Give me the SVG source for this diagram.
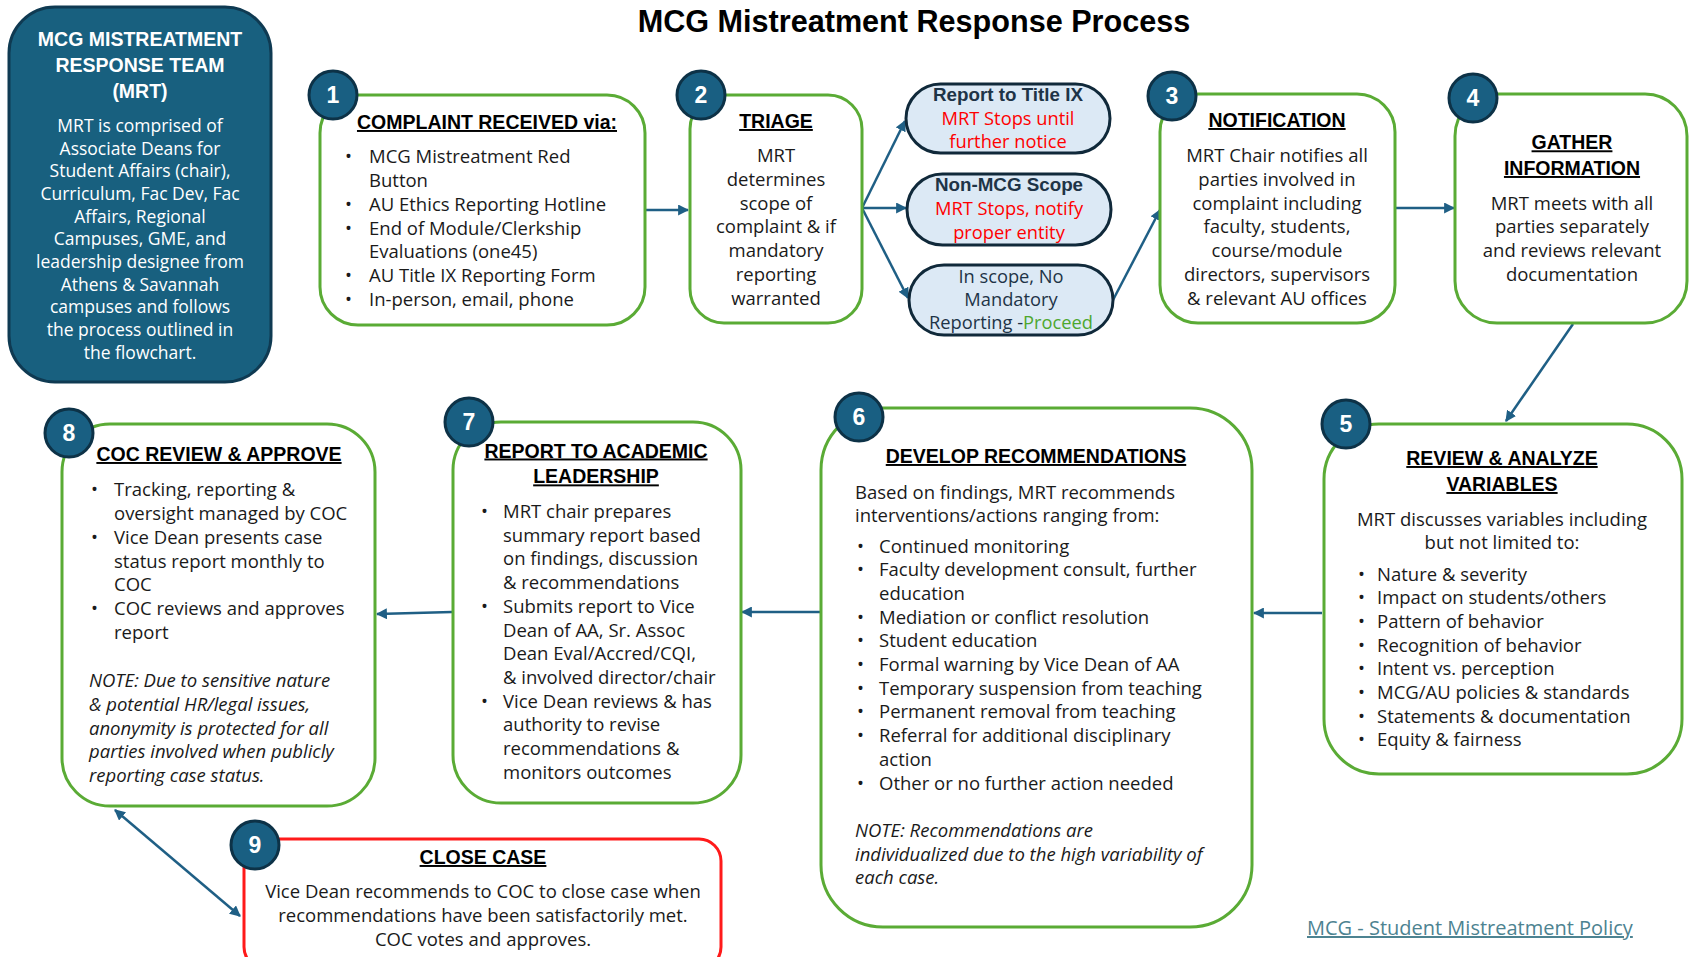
<svg xmlns="http://www.w3.org/2000/svg" width="1690" height="957" viewBox="0 0 1690 957">
<defs>
<style>
.t{font-family:'Open Sans','Liberation Sans',Arial,sans-serif;font-size:18.5px;fill:#1a1a1a}
.c{text-anchor:middle}
.h{font-family:'Liberation Sans',Arial,sans-serif;font-weight:bold;font-size:19.5px;text-decoration:underline;text-anchor:middle}
.i{font-style:italic}
.box{fill:#ffffff;stroke:#5aab35;stroke-width:3}
.red{fill:#ffffff;stroke:#ff1a1a;stroke-width:3}
.pill{fill:#dce9f5;stroke:#10293a;stroke-width:3}
.num{fill:#195f82;stroke:#0d3247;stroke-width:3}
.numt{font-family:'Liberation Sans',Arial,sans-serif;font-weight:bold;font-size:23px;fill:#ffffff;text-anchor:middle}
.conn{stroke:#1f5f85;stroke-width:2.5;fill:none}
.pt{font-family:'Open Sans','Liberation Sans',Arial,sans-serif;font-size:18.3px;fill:#1e3447;text-anchor:middle}
.pb{font-family:'Liberation Sans',Arial,sans-serif;font-weight:bold;font-size:18.8px}
.rd{fill:#ff0000}
.w{fill:#ffffff}
</style>
<marker id="ah" viewBox="0 0 10 10" refX="9" refY="5" markerWidth="11" markerHeight="11" markerUnits="userSpaceOnUse" orient="auto-start-reverse">
<path d="M0,0 L10,5 L0,10 Z" fill="#1f5f85"/>
</marker>
</defs>
<rect width="1690" height="957" fill="#ffffff"/>

<text x="914" y="32" style="font-family:'Liberation Sans',Arial,sans-serif;font-size:30.6px;font-weight:bold;fill:#000;text-anchor:middle">MCG Mistreatment Response Process</text>

<g id="connectors">
<line class="conn" x1="644" y1="210" x2="688" y2="210" marker-end="url(#ah)"/>
<line class="conn" x1="862" y1="208" x2="905" y2="121" marker-end="url(#ah)"/>
<line class="conn" x1="862" y1="208" x2="906" y2="208" marker-end="url(#ah)"/>
<line class="conn" x1="862" y1="208" x2="908" y2="298" marker-end="url(#ah)"/>
<line class="conn" x1="1113" y1="300" x2="1160" y2="210" marker-end="url(#ah)"/>
<line class="conn" x1="1395" y1="208" x2="1454" y2="208" marker-end="url(#ah)"/>
<line class="conn" x1="1573" y1="324" x2="1506" y2="421" marker-end="url(#ah)"/>
<line class="conn" x1="1322" y1="613" x2="1254" y2="613" marker-end="url(#ah)"/>
<line class="conn" x1="820" y1="612" x2="742" y2="612" marker-end="url(#ah)"/>
<line class="conn" x1="452" y1="612" x2="377" y2="614" marker-end="url(#ah)"/>
<line class="conn" x1="115" y1="810" x2="240" y2="916" marker-start="url(#ah)" marker-end="url(#ah)"/>
</g>

<g id="mrt">
<rect x="9" y="7" width="262" height="375" rx="46" fill="#18607f" stroke="#0f3a52" stroke-width="3"/>
<text class="t c w" style="font-family:'Liberation Sans',Arial,sans-serif;font-weight:bold;font-size:19.5px" x="140"><tspan x="140" y="46">MCG MISTREATMENT</tspan><tspan x="140" y="72">RESPONSE TEAM</tspan><tspan x="140" y="97.5">(MRT)</tspan></text>
<text class="t c w" style="font-size:17.5px" x="140"><tspan x="140" y="132">MRT is comprised of</tspan><tspan x="140" y="154.6">Associate Deans for</tspan><tspan x="140" y="177.3">Student Affairs (chair),</tspan><tspan x="140" y="199.9">Curriculum, Fac Dev, Fac</tspan><tspan x="140" y="222.6">Affairs,  Regional</tspan><tspan x="140" y="245.2">Campuses, GME, and</tspan><tspan x="140" y="267.9">leadership designee from</tspan><tspan x="140" y="290.5">Athens &amp; Savannah</tspan><tspan x="140" y="313.2">campuses and follows</tspan><tspan x="140" y="335.8">the process outlined in</tspan><tspan x="140" y="358.5">the flowchart.</tspan></text>
</g>

<g id="n1">
<rect class="box" x="320" y="95" width="325" height="230" rx="38"/>
<circle class="num" cx="333" cy="95" r="24"/>
<text class="numt" x="333" y="103">1</text>
<text class="h" x="487" y="129">COMPLAINT RECEIVED via:</text>
<text class="t"><tspan x="345" y="163.4">•</tspan><tspan x="345" y="210.8">•</tspan><tspan x="345" y="234.5">•</tspan><tspan x="345" y="281.9">•</tspan><tspan x="345" y="305.6">•</tspan></text>
<text class="t"><tspan x="369" y="163.4">MCG Mistreatment Red</tspan><tspan x="369" y="187.1">Button</tspan><tspan x="369" y="210.8">AU Ethics Reporting Hotline</tspan><tspan x="369" y="234.5">End of Module/Clerkship</tspan><tspan x="369" y="258.2">Evaluations (one45)</tspan><tspan x="369" y="281.9">AU Title IX Reporting Form</tspan><tspan x="369" y="305.6">In-person, email, phone</tspan></text>
</g>

<g id="n2">
<rect class="box" x="690" y="95" width="172" height="228" rx="34"/>
<circle class="num" cx="701" cy="95" r="24"/>
<text class="numt" x="701" y="103">2</text>
<text class="h" x="776" y="128">TRIAGE</text>
<text class="t c"><tspan x="776" y="162.3">MRT</tspan><tspan x="776" y="186">determines</tspan><tspan x="776" y="209.7">scope of</tspan><tspan x="776" y="233.4">complaint &amp; if</tspan><tspan x="776" y="257.1">mandatory</tspan><tspan x="776" y="280.8">reporting</tspan><tspan x="776" y="304.5">warranted</tspan></text>
</g>

<g id="p1">
<rect class="pill" x="906" y="84" width="204" height="69" rx="34.5"/>
<text class="pt"><tspan x="1008" y="101" class="pb">Report to Title IX</tspan><tspan x="1008" y="124.6" class="rd">MRT Stops until</tspan><tspan x="1008" y="148.3" class="rd">further notice</tspan></text>
</g>
<g id="p2">
<rect class="pill" x="907" y="174" width="204" height="71" rx="35.5"/>
<text class="pt"><tspan x="1009" y="191.4" class="pb">Non-MCG Scope</tspan><tspan x="1009" y="215" class="rd">MRT Stops, notify</tspan><tspan x="1009" y="238.8" class="rd">proper entity</tspan></text>
</g>
<g id="p3">
<rect class="pill" x="909" y="265" width="204" height="70" rx="35"/>
<text class="pt"><tspan x="1011" y="283">In scope, No</tspan><tspan x="1011" y="305.6">Mandatory</tspan><tspan x="1011" y="329.4">Reporting -<tspan style="fill:#4ea72e">Proceed</tspan></tspan></text>
</g>

<g id="n3">
<rect class="box" x="1160" y="94" width="235" height="229" rx="38"/>
<circle class="num" cx="1172" cy="96" r="24"/>
<text class="numt" x="1172" y="104">3</text>
<text class="h" x="1277" y="127">NOTIFICATION</text>
<text class="t c"><tspan x="1277" y="162.3">MRT Chair notifies all</tspan><tspan x="1277" y="186">parties involved in</tspan><tspan x="1277" y="209.7">complaint including</tspan><tspan x="1277" y="233.4">faculty, students,</tspan><tspan x="1277" y="257.1">course/module</tspan><tspan x="1277" y="280.8">directors, supervisors</tspan><tspan x="1277" y="304.5">&amp; relevant AU offices</tspan></text>
</g>

<g id="n4">
<rect class="box" x="1455" y="94" width="232" height="229" rx="42"/>
<circle class="num" cx="1473" cy="98" r="24"/>
<text class="numt" x="1473" y="106">4</text>
<text class="h"><tspan x="1572" y="149.3">GATHER</tspan><tspan x="1572" y="175">INFORMATION</tspan></text>
<text class="t c"><tspan x="1572" y="209.7">MRT meets with all</tspan><tspan x="1572" y="233.4">parties separately</tspan><tspan x="1572" y="257.1">and reviews relevant</tspan><tspan x="1572" y="280.8">documentation</tspan></text>
</g>

<g id="n5">
<rect class="box" x="1324" y="424" width="358" height="350" rx="55"/>
<circle class="num" cx="1346" cy="424" r="24"/>
<text class="numt" x="1346" y="432">5</text>
<text class="h"><tspan x="1502" y="465">REVIEW &amp; ANALYZE</tspan><tspan x="1502" y="491">VARIABLES</tspan></text>
<text class="t c"><tspan x="1502" y="525.5">MRT discusses variables including</tspan><tspan x="1502" y="549">but not limited to:</tspan></text>
<text class="t"><tspan x="1358" y="580.5">•</tspan><tspan x="1358" y="604.2">•</tspan><tspan x="1358" y="627.9">•</tspan><tspan x="1358" y="651.6">•</tspan><tspan x="1358" y="675.3">•</tspan><tspan x="1358" y="699">•</tspan><tspan x="1358" y="722.7">•</tspan><tspan x="1358" y="746.4">•</tspan></text>
<text class="t"><tspan x="1377" y="580.5">Nature &amp; severity</tspan><tspan x="1377" y="604.2">Impact on students/others</tspan><tspan x="1377" y="627.9">Pattern of behavior</tspan><tspan x="1377" y="651.6">Recognition of behavior</tspan><tspan x="1377" y="675.3">Intent vs. perception</tspan><tspan x="1377" y="699">MCG/AU policies &amp; standards</tspan><tspan x="1377" y="722.7">Statements &amp; documentation</tspan><tspan x="1377" y="746.4">Equity &amp; fairness</tspan></text>
</g>

<g id="n6">
<rect class="box" x="821" y="408" width="431" height="519" rx="62"/>
<circle class="num" cx="859" cy="417" r="24"/>
<text class="numt" x="859" y="425">6</text>
<text class="h" x="1036" y="463">DEVELOP RECOMMENDATIONS</text>
<text class="t"><tspan x="855" y="498.5">Based on findings, MRT recommends</tspan><tspan x="855" y="522.3">interventions/actions ranging from:</tspan></text>
<text class="t"><tspan x="857" y="552.5">•</tspan><tspan x="857" y="576.2">•</tspan><tspan x="857" y="623.6">•</tspan><tspan x="857" y="647.3">•</tspan><tspan x="857" y="671">•</tspan><tspan x="857" y="694.7">•</tspan><tspan x="857" y="718.4">•</tspan><tspan x="857" y="742.1">•</tspan><tspan x="857" y="789.5">•</tspan></text>
<text class="t"><tspan x="879" y="552.5">Continued monitoring</tspan><tspan x="879" y="576.2">Faculty development consult, further</tspan><tspan x="879" y="599.9">education</tspan><tspan x="879" y="623.6">Mediation or conflict resolution</tspan><tspan x="879" y="647.3">Student education</tspan><tspan x="879" y="671">Formal warning by Vice Dean of AA</tspan><tspan x="879" y="694.7">Temporary suspension from teaching</tspan><tspan x="879" y="718.4">Permanent removal from teaching</tspan><tspan x="879" y="742.1">Referral for additional disciplinary</tspan><tspan x="879" y="765.8">action</tspan><tspan x="879" y="789.5">Other or no further action needed</tspan></text>
<text class="t i"><tspan x="855" y="837">NOTE: Recommendations are</tspan><tspan x="855" y="860.7">individualized due to the high variability of</tspan><tspan x="855" y="884.4">each case.</tspan></text>
</g>

<g id="n7">
<rect class="box" x="453" y="422" width="288" height="381" rx="48"/>
<circle class="num" cx="469" cy="422" r="24"/>
<text class="numt" x="469" y="430">7</text>
<text class="h"><tspan x="596" y="457.5">REPORT TO ACADEMIC</tspan><tspan x="596" y="483.4">LEADERSHIP</tspan></text>
<text class="t"><tspan x="481" y="518">•</tspan><tspan x="481" y="612.8">•</tspan><tspan x="481" y="707.6">•</tspan></text>
<text class="t"><tspan x="503" y="518">MRT chair prepares</tspan><tspan x="503" y="541.7">summary report based</tspan><tspan x="503" y="565.4">on findings, discussion</tspan><tspan x="503" y="589.1">&amp; recommendations</tspan><tspan x="503" y="612.8">Submits report to Vice</tspan><tspan x="503" y="636.5">Dean of AA, Sr. Assoc</tspan><tspan x="503" y="660.2">Dean Eval/Accred/CQI,</tspan><tspan x="503" y="683.9">&amp; involved director/chair</tspan><tspan x="503" y="707.6">Vice Dean reviews &amp; has</tspan><tspan x="503" y="731.3">authority to revise</tspan><tspan x="503" y="755">recommendations &amp;</tspan><tspan x="503" y="778.7">monitors outcomes</tspan></text>
</g>

<g id="n8">
<rect class="box" x="62" y="424" width="313" height="382" rx="48"/>
<circle class="num" cx="69" cy="433" r="24"/>
<text class="numt" x="69" y="441">8</text>
<text class="h" x="219" y="461">COC REVIEW &amp; APPROVE</text>
<text class="t"><tspan x="91" y="496.4">•</tspan><tspan x="91" y="543.8">•</tspan><tspan x="91" y="614.9">•</tspan></text>
<text class="t"><tspan x="114" y="496.4">Tracking, reporting &amp;</tspan><tspan x="114" y="520.1">oversight managed by COC</tspan><tspan x="114" y="543.8">Vice Dean presents case</tspan><tspan x="114" y="567.5">status report monthly to</tspan><tspan x="114" y="591.2">COC</tspan><tspan x="114" y="614.9">COC reviews and approves</tspan><tspan x="114" y="638.6">report</tspan></text>
<text class="t i"><tspan x="89" y="687.2">NOTE: Due to sensitive nature</tspan><tspan x="89" y="710.9">&amp; potential HR/legal issues,</tspan><tspan x="89" y="734.6">anonymity is protected for all</tspan><tspan x="89" y="758.3">parties involved when publicly</tspan><tspan x="89" y="782">reporting case status.</tspan></text>
</g>

<g id="n9">
<rect class="red" x="244" y="839" width="477" height="130" rx="22"/>
<circle class="num" cx="255" cy="845" r="24"/>
<text class="numt" x="255" y="853">9</text>
<text class="h" x="483" y="864">CLOSE CASE</text>
<text class="t c"><tspan x="483" y="898.4">Vice Dean recommends to COC to close case when</tspan><tspan x="483" y="922">recommendations have been satisfactorily met.</tspan><tspan x="483" y="946">COC votes and approves.</tspan></text>
</g>

<text class="t" x="1307" y="935" style="font-size:20px;fill:#4d8391;text-decoration:underline">MCG - Student Mistreatment Policy</text>
</svg>
